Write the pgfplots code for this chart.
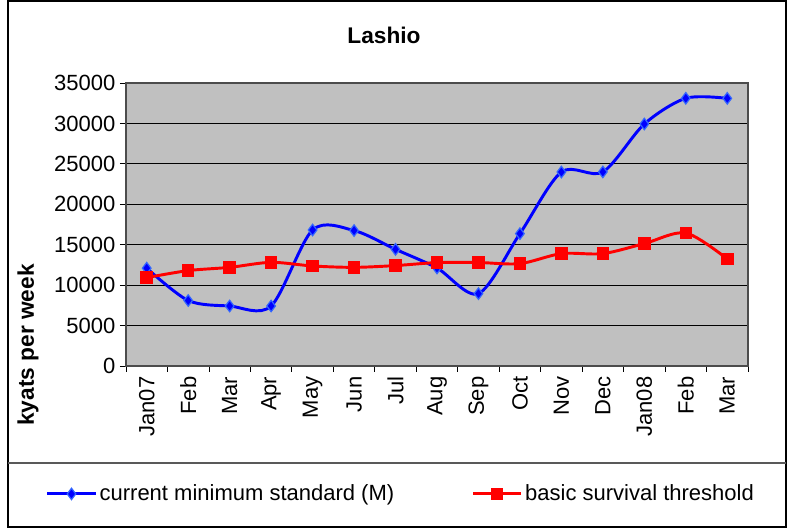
\documentclass[border=0pt]{standalone}
\usepackage{pgfplots}
\pgfplotsset{compat=1.18}
\usepackage{fontspec}
\setmainfont{Liberation Sans}

\definecolor{plotgray}{HTML}{C0C0C0}
\definecolor{seriesblue}{HTML}{0000FF}
\definecolor{markblue}{HTML}{3366FF}
\definecolor{seriesred}{HTML}{FF0000}

\begin{document}
\begin{tikzpicture}[x=0.75pt,y=0.75pt]
% page extent and chart frame (units: reference pixels, origin at axis corner)
\path (-126,-162) rectangle (668,366);
\draw[black, line width=0.8pt] (-118,-161) rectangle (660,365);
\draw[gray!70!black, line width=0.8pt] (-118,-97) -- (660,-97);

\begin{axis}[
    at={(0,0)}, anchor=south west,
    scale only axis,
    width=466.5pt,
    height=212.25pt,
    xmin=-0.5, xmax=14.5,
    ymin=0, ymax=35000,
    ytick={0,5000,...,35000},
    xtick={0,...,14},
    xticklabels={Jan07,Feb,Mar,Apr,May,Jun,Jul,Aug,Sep,Oct,Nov,Dec,Jan08,Feb,Mar},
    minor xtick={-0.5,0.5,...,14.5},
    major x tick style={draw=none},
    minor tick length=4.5pt,
    major tick length=4.5pt,
    tick align=outside,
    xtick pos=bottom, ytick pos=left,
    tick style={black, line width=0.6pt},
    axis background/.style={fill=plotgray},
    axis line style={gray!60!black, line width=0.8pt},
    ymajorgrids=true,
    grid style={black, line width=0.6pt},
    /pgf/number format/assume math mode=true,
    /pgf/number format/set thousands separator={},
    scaled y ticks=false,
    tick label style={font=\fontsize{16.5}{18}\selectfont},
    xticklabel style={rotate=90, anchor=east},
    clip=false,
    legend columns=2,
    legend style={at={(-0.129,-0.452)}, anchor=west, draw=none, fill=none,
        inner sep=0pt,
        font=\fontsize{16.5}{18}\selectfont,
        /tikz/every even column/.append style={column sep=56pt}},
    legend image code/.code={
        \draw[#1, mark repeat=2, mark phase=2] plot coordinates {(0pt,0pt) (18pt,0pt) (36pt,0pt)};},
]

% current minimum standard (M)
\addplot[seriesblue, line width=2.2pt, smooth, tension=0.5,
    mark=diamond*, mark size=4.3pt,
    mark options={fill=seriesblue, draw=markblue, line width=0.9pt, solid}]
coordinates {
    (0,12100) (1,8100) (2,7420) (3,7420) (4,16820) (5,16750) (6,14430)
    (7,12120) (8,8950) (9,16370) (10,23990) (11,24000) (12,29930)
    (13,33110) (14,33100)
};
\addlegendentry{current minimum standard (M)}

% basic survival threshold
\addplot[seriesred, line width=2.2pt, smooth, tension=0.5,
    mark=square*, mark size=3.6pt,
    mark options={fill=seriesred, draw=seriesred, solid}]
coordinates {
    (0,10930) (1,11800) (2,12200) (3,12820) (4,12370) (5,12200) (6,12420)
    (7,12790) (8,12800) (9,12660) (10,13900) (11,13900) (12,15140)
    (13,16450) (14,13230)
};
\addlegendentry{basic survival threshold}

\end{axis}

\node[font=\bfseries\fontsize{17}{19}\selectfont] at (258,331) {Lashio};
\node[font=\bfseries\fontsize{17}{19}\selectfont, rotate=90] at (-98,21) {kyats per week};
\end{tikzpicture}
\end{document}
